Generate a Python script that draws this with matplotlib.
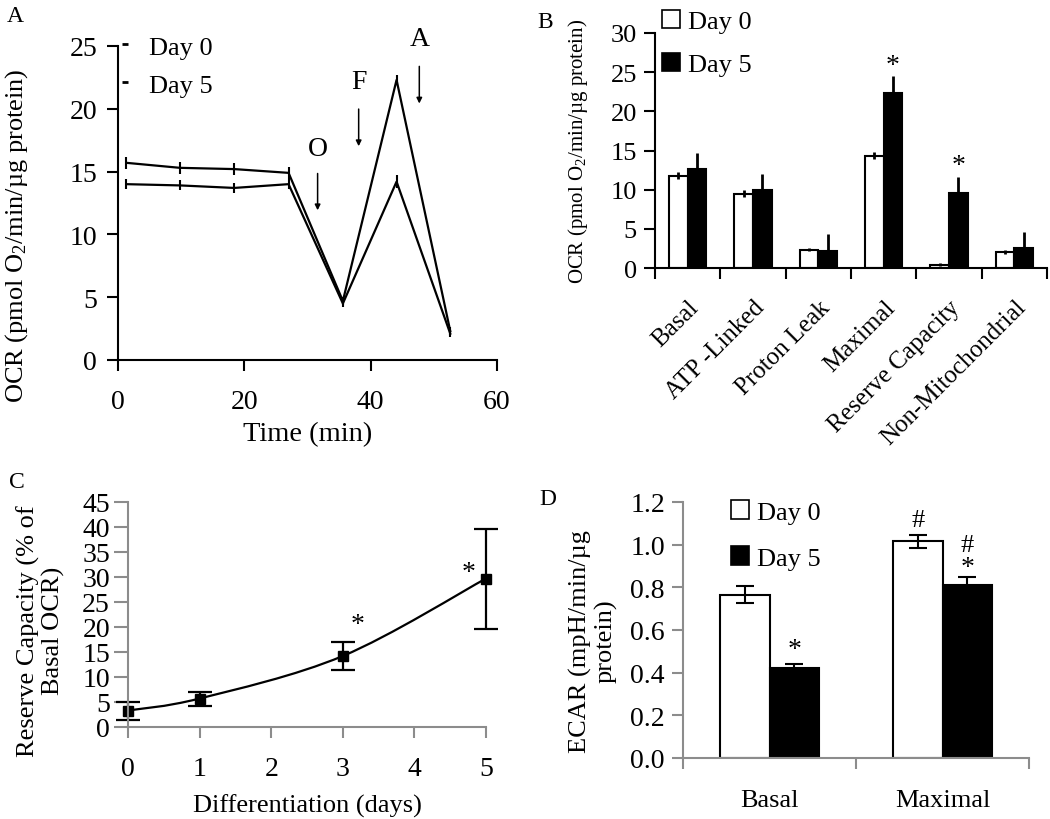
import matplotlib
matplotlib.use("Agg")
import matplotlib.pyplot as plt
from matplotlib.lines import Line2D
from matplotlib.patches import Patch, PathPatch
from matplotlib.path import Path

plt.rcParams['font.family'] = ['Liberation Serif', 'DejaVu Serif']
plt.rcParams['mathtext.default'] = 'regular'
plt.rcParams['font.size'] = 19

# Panel A: OCR time course
time_min = [1.3, 9.8, 18.4, 27.0, 35.6, 44.1, 52.6]
ocr_day0 = [14.0, 13.9, 13.7, 14.0, 4.5, 14.2, 2.1]
ocr_day0_err = [0.4, 0.4, 0.4, 0.4, 0.3, 0.5, 0.3]
ocr_day5 = [15.7, 15.3, 15.2, 14.9, 4.7, 22.3, 2.3]
ocr_day5_err = [0.5, 0.5, 0.5, 0.5, 0.3, 0.4, 0.3]
injections = ['O', 'F', 'A']
inject_x = [31.6, 38.1, 47.7]

# Panel B: OCR parameters
params = ['Basal', 'ATP -Linked', 'Proton Leak', 'Maximal', 'Reserve Capacity', 'Non-Mitochondrial']
b_day0 = [11.8, 9.5, 2.35, 14.35, 0.42, 2.1]
b_day0_err = [0.5, 0.4, 0.2, 0.45, 0.2, 0.25]
b_day5 = [12.7, 9.9, 2.2, 22.4, 9.6, 2.5]
b_day5_err = [2.0, 2.1, 2.1, 2.1, 2.05, 2.1]
b_sig = [False, False, False, True, True, False]

# Panel C: reserve capacity over differentiation
days = [0, 1, 3, 5]
reserve = [3.3, 5.7, 14.2, 29.7]
reserve_err = [1.8, 1.4, 2.75, 10.0]

# Panel D: ECAR
ecar_cats = ['Basal', 'Maximal']
ecar_day0 = [0.765, 1.015]
ecar_day0_err = [0.04, 0.03]
ecar_day5 = [0.42, 0.81]
ecar_day5_err = [0.02, 0.04]

fig = plt.figure(figsize=(10.5, 8.2), dpi=100)
W, H = 1050.0, 820.0


def rect(left, top, right, bottom):
    return [left / W, 1 - bottom / H, (right - left) / W, (bottom - top) / H]


def style(ax, color='black'):
    for s in ['top', 'right']:
        ax.spines[s].set_visible(False)
    for s in ['left', 'bottom']:
        ax.spines[s].set_color(color)
        ax.spines[s].set_linewidth(1.5)
    ax.tick_params(which='major', direction='out', length=8, width=1.5, color=color, labelsize=20)


def smooth_path(xs, ys):
    # bezier path through the points, like a spreadsheet "smoothed line"
    pts = list(zip(xs, ys))
    verts = [pts[0]]
    codes = [Path.MOVETO]
    for i in range(len(pts) - 1):
        p0 = pts[i - 1] if i > 0 else pts[i]
        p1, p2 = pts[i], pts[i + 1]
        p3 = pts[i + 2] if i + 2 < len(pts) else pts[i + 1]
        c1 = (p1[0] + (p2[0] - p0[0]) / 6, p1[1] + (p2[1] - p0[1]) / 6)
        c2 = (p2[0] - (p3[0] - p1[0]) / 6, p2[1] - (p3[1] - p1[1]) / 6)
        verts += [c1, c2, p2]
        codes += [Path.CURVE4] * 3
    return Path(verts, codes)


# ---- A
axA = fig.add_axes(rect(118, 47, 497, 361))
style(axA)
axA.errorbar(time_min, ocr_day0, yerr=ocr_day0_err, color='k', lw=1.6, elinewidth=1.5, capsize=0, label='Day 0')
axA.errorbar(time_min, ocr_day5, yerr=ocr_day5_err, color='k', lw=1.6, elinewidth=1.5, capsize=0, label='Day 5')
axA.set_xlim(0, 60)
axA.set_ylim(0, 25)
axA.set_xticks([0, 20, 40, 60])
axA.set_yticks([0, 5, 10, 15, 20, 25])
axA.tick_params(axis='x', pad=13)
axA.tick_params(axis='y', pad=7)
axA.set_xlabel('Time (min)', fontsize=20.5, labelpad=5)
axA.set_ylabel('OCR (pmol O$_2$/min/µg protein)', fontsize=19)
axA.yaxis.set_label_coords(-0.232, 0.40)
arrow_top = [15.07, 20.2, 23.6]
arrow_tip = [11.7, 16.8, 20.2]
label_y = [16.8, 22.2, 25.6]
for name, x, t0, t1, ly in zip(injections, inject_x, arrow_top, arrow_tip, label_y):
    axA.annotate('', xy=(x, t1), xytext=(x, t0),
                 arrowprops=dict(arrowstyle='-|>', color='k', lw=1.1, mutation_scale=8))
    axA.text(x, ly, name, ha='center', va='center', fontsize=20, clip_on=False)
legA = [Line2D([], [], color='k', marker='_', ms=5, mew=2, lw=0) for _ in range(2)]
axA.legend(legA, ['Day 0', 'Day 5'], loc='upper left', bbox_to_anchor=(-0.065, 1.11),
           frameon=False, handlelength=0.6, handletextpad=0.6, labelspacing=0.55, fontsize=19)
fig.text(15 / W, 1 - 16 / H, 'A', fontsize=17, ha='center', va='center')

# ---- B
axB = fig.add_axes(rect(655, 34, 1047, 269))
style(axB)
w = 0.286
cB = [i + 0.5 for i in range(len(params))]
axB.bar([c - w / 2 for c in cB], b_day0, w, color='white', edgecolor='k', lw=1.5)
axB.bar([c + w / 2 for c in cB], b_day5, w, color='black', edgecolor='k', lw=1.5)
axB.errorbar([c - w / 2 for c in cB], b_day0, yerr=b_day0_err, fmt='none', ecolor='k', elinewidth=2, capsize=0)
axB.errorbar([c + w / 2 for c in cB], b_day5, yerr=[[0] * len(b_day5), b_day5_err], fmt='none',
             ecolor='k', elinewidth=2, capsize=0)
for c, v, e, s in zip(cB, b_day5, b_day5_err, b_sig):
    if s:
        axB.text(c + w / 2, v + e + 1.4, '*', ha='center', va='center', fontsize=20)
axB.set_xlim(0, len(params))
axB.set_ylim(0, 30)
axB.set_yticks([0, 5, 10, 15, 20, 25, 30])
axB.tick_params(axis='y', labelsize=19, pad=5)
axB.set_xticks(range(len(params) + 1))
axB.set_xticklabels([])
axB.set_xticks(cB, minor=True)
axB.set_xticklabels(params, minor=True, rotation=45, ha='right', rotation_mode='anchor', fontsize=18)
axB.tick_params(axis='x', which='minor', length=0, pad=20)
axB.set_ylabel('OCR (pmol O$_2$/min/µg protein)', fontsize=15)
axB.yaxis.set_label_coords(-0.166, 0.5)
legB = [Patch(facecolor='white', edgecolor='k', lw=1.2), Patch(facecolor='black', edgecolor='k', lw=1.2)]
axB.legend(legB, ['Day 0', 'Day 5'], loc='upper left', bbox_to_anchor=(-0.043, 1.2),
           frameon=False, handlelength=0.7, handleheight=0.7, handletextpad=0.3, labelspacing=0.75, fontsize=19)
fig.text(545 / W, 1 - 22 / H, 'B', fontsize=17, ha='center', va='center')

# ---- C
axC = fig.add_axes(rect(128, 503, 486, 728))
style(axC, color='#8c8c8c')
axC.add_patch(PathPatch(smooth_path(days, reserve), fill=False, edgecolor='k', lw=1.6))
ebC = axC.errorbar(days, reserve, yerr=reserve_err, ls='none', color='k', marker='s', ms=7.5,
                   elinewidth=1.6, capsize=8.5, capthick=1.6, ecolor='k')
for art in ebC.get_children():
    art.set_clip_on(False)
axC.text(3.2, 20.5, '*', ha='center', va='center', fontsize=20)
axC.text(4.75, 30.8, '*', ha='center', va='center', fontsize=20)
axC.set_xlim(0, 5)
axC.set_ylim(0, 45)
axC.set_yticks(range(0, 50, 5))
axC.set_xticks(range(6))
axC.tick_params(axis='y', length=10, pad=3)
axC.tick_params(axis='x', pad=13)
axC.set_xlabel('Differentiation (days)', fontsize=19, labelpad=9)
axC.set_ylabel('Reserve Capacity (% of\nBasal OCR)', fontsize=19, linespacing=1.1)
axC.yaxis.set_label_coords(-0.176, 0.43)
fig.text(17 / W, 1 - 483 / H, 'C', fontsize=17, ha='center', va='center')

# ---- D
axD = fig.add_axes(rect(683, 503, 1029, 759))
style(axD, color='#8c8c8c')
cD = [0.5, 1.5]
axD.bar([c - w / 2 for c in cD], ecar_day0, w, color='white', edgecolor='k', lw=1.5)
axD.bar([c + w / 2 for c in cD], ecar_day5, w, color='black', edgecolor='k', lw=1.5)
axD.errorbar([c - w / 2 for c in cD], ecar_day0, yerr=ecar_day0_err, fmt='none', ecolor='k',
             elinewidth=1.5, capsize=6.5, capthick=1.5)
axD.errorbar([c + w / 2 for c in cD], ecar_day5, yerr=ecar_day5_err, fmt='none', ecolor='k',
             elinewidth=1.5, capsize=6.5, capthick=1.5)
axD.text(cD[0] + w / 2, 0.51, '*', ha='center', va='center', fontsize=20)
axD.text(cD[1] - w / 2, 1.115, '#', ha='center', va='center', fontsize=19)
axD.text(cD[1] + w / 2, 1.0, '#', ha='center', va='center', fontsize=19)
axD.text(cD[1] + w / 2, 0.893, '*', ha='center', va='center', fontsize=20)
axD.set_xlim(0, 2)
axD.set_ylim(0, 1.2)
axD.set_yticks([0, 0.2, 0.4, 0.6, 0.8, 1.0, 1.2])
axD.set_yticklabels(['0.0', '0.2', '0.4', '0.6', '0.8', '1.0', '1.2'])
axD.set_xticks([0, 1, 2])
axD.set_xticklabels([])
axD.set_xticks(cD, minor=True)
axD.set_xticklabels(ecar_cats, minor=True, fontsize=19)
axD.tick_params(axis='x', which='minor', length=0, pad=22)
axD.tick_params(axis='y', length=8, pad=5)
axD.set_ylabel('ECAR (mpH/min/µg\nprotein)', fontsize=19, linespacing=1.1)
axD.yaxis.set_label_coords(-0.19, 0.46)
legD = [Patch(facecolor='white', edgecolor='k', lw=1.2), Patch(facecolor='black', edgecolor='k', lw=1.2)]
axD.legend(legD, ['Day 0', 'Day 5'], loc='upper left', bbox_to_anchor=(0.07, 1.1),
           frameon=False, handlelength=0.7, handleheight=0.7, handletextpad=0.3, labelspacing=0.85, fontsize=19)
fig.text(548 / W, 1 - 500 / H, 'D', fontsize=17, ha='center', va='center')

fig.savefig('out.png', dpi=100)
